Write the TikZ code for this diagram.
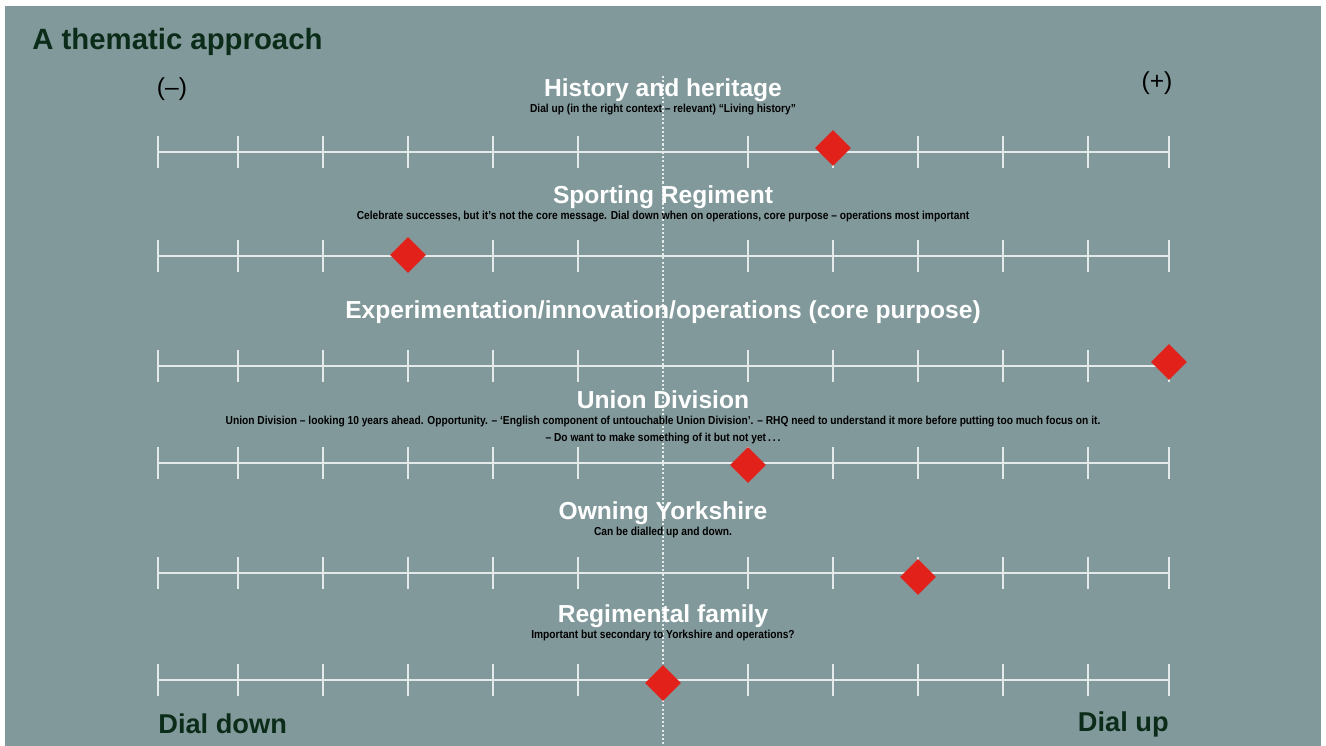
\documentclass[tikz,border=0pt]{standalone}
\usepackage{fontspec}
\setmainfont{Liberation Sans}
\newfontfamily\notefont[FakeStretch=0.88]{Liberation Sans}
\usetikzlibrary{shapes.geometric}

\definecolor{slate}{RGB}{130,153,155}
\definecolor{pine}{RGB}{12,44,26}
\definecolor{dialred}{RGB}{226,33,26}
\definecolor{rule}{RGB}{228,234,234}

\begin{document}
\begin{tikzpicture}[x=0.02cm, y=-0.02cm,
    heading/.style={text=white, inner sep=0pt, font=\fontsize{14}{16}\selectfont\bfseries},
    note/.style={text=black, inner sep=0pt, align=center, font=\fontsize{6.6}{10.2}\selectfont\notefont\bfseries},
    corner/.style={text=pine, inner sep=0pt, font=\fontsize{15.5}{18}\selectfont\bfseries},
    sign/.style={text=black, inner sep=0pt, font=\fontsize{14}{16}\selectfont},
    marker/.style={diamond, fill=dialred, inner sep=0pt, minimum width=0.72cm, minimum height=0.72cm},
    scaleline/.style={draw=rule, line width=1pt}]
    % Background
    \useasboundingbox (0,0) rectangle (1326,746);
    \fill[slate] (5,6) rectangle (1321,746);

    % Centre line
    \coordinate (ctop) at (663,76);
    \coordinate (cbot) at (663,746);
    \draw[rule, line width=0.6pt, dash pattern=on 1.2pt off 1.2pt] (ctop) -- (cbot);

    % Scales
    \foreach \y in {152,256,366,463,573,680} {
        \draw[scaleline] (158,\y) -- (1169,\y);
        \foreach \x in {158,238,323,408,493,578,748,833,918,1003,1088,1169}
            \draw[scaleline] (\x,\y-16) -- (\x,\y+16);
    }

    % Labels
    \node [corner, anchor=west, font=\fontsize{16.7}{19}\selectfont\bfseries] (title) at (32,42) {A thematic approach};
    \node [sign] (minus) at (172,89) {(–)};
    \node [sign] (plus) at (1157,83) {(+)};
    \node [corner, anchor=west] (down) at (158,724) {Dial down};
    \node [corner, anchor=east] (up) at (1169,724) {Dial up};

    % Themes
    \node [heading] (head1) at (663,90) {History and heritage};
    \node [note] (note1) at (663,110) {Dial up (in the right context – relevant) “Living history”};
    \node [heading] (head2) at (663,197) {Sporting Regiment};
    \node [note] (note2) at (663,217) {Celebrate successes, but it’s not the core message. Dial down when on operations, core purpose – operations most important};
    \node [heading] (head3) at (663,312) {Experimentation/innovation/operations (core purpose)};
    \node [heading] (head4) at (663,400) {Union Division};
    \node [note] (note4) at (663,430) {Union Division – looking 10 years ahead. Opportunity. – ‘English component of untouchable Union Division’. – RHQ need to understand it more before putting too much focus on it.\\ – Do want to make something of it but not yet\,.\,.\,.};
    \node [heading] (head5) at (663,513) {Owning Yorkshire};
    \node [note] (note5) at (663,533) {Can be dialled up and down.};
    \node [heading] (head6) at (663,616) {Regimental family};
    \node [note] (note6) at (663,636) {Important but secondary to Yorkshire and operations?};

    % Ratings
    \node [marker] (mark1) at (833,148) {};
    \node [marker] (mark2) at (408,255) {};
    \node [marker] (mark3) at (1169,362) {};
    \node [marker] (mark4) at (748,465) {};
    \node [marker] (mark5) at (918,577) {};
    \node [marker] (mark6) at (663,683) {};
\end{tikzpicture}
\end{document}
